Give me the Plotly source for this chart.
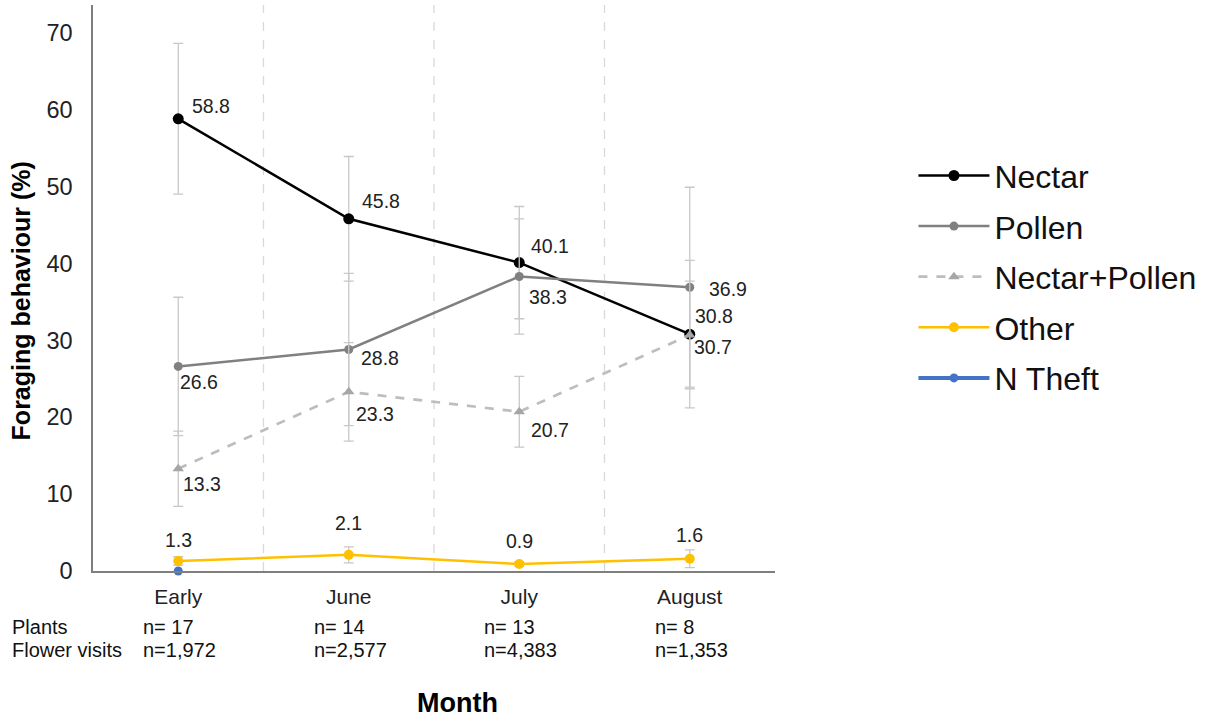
import plotly.graph_objects as go

months = ["Early", "June", "July", "August"]
nectar = [58.8, 45.8, 40.1, 30.8]
nectar_err = [9.8, 8.1, 7.3, 9.6]
pollen = [26.6, 28.8, 38.3, 36.9]
pollen_err = [9.0, 9.9, 7.5, 13.0]
nectar_pollen = [13.3, 23.3, 20.7, 30.7]
nectar_pollen_err = [4.9, 6.4, 4.6, 7.0]
other = [1.3, 2.1, 0.9, 1.6]
other_err = [0.55, 1.05, 0.3, 1.15]
n_theft_months = ["Early"]
n_theft = [0.0]
plants_n = ["n= 17", "n= 14", "n= 13", "n= 8"]
visits_n = ["n=1,972", "n=2,577", "n=4,383", "n=1,353"]
y_ticks = [0, 10, 20, 30, 40, 50, 60, 70]

FONT = "Liberation Sans, Arial, sans-serif"
ERR_COLOR = "#c8c8c8"

fig = go.Figure()

def add_series(name, y, err, color, symbol, size, dash="solid", mcolor=None, width=2.5):
    fig.add_trace(go.Scatter(
        x=months, y=y, name=name, mode="lines+markers",
        line=dict(color=color, width=width, dash=dash),
        marker=dict(color=mcolor or color, size=size, symbol=symbol),
        error_y=dict(type="data", array=err, visible=True, color=ERR_COLOR,
                     thickness=1.3, width=5),
        legendgroup=name,
    ))

add_series("Nectar", nectar, nectar_err, "#000000", "circle", 11)
add_series("Pollen", pollen, pollen_err, "#808080", "circle", 9)
add_series("Nectar+Pollen", nectar_pollen, nectar_pollen_err, "#bdbdbd", "triangle-up", 10,
           dash="dash", mcolor="#a6a6a6", width=2.7)
add_series("Other", other, other_err, "#ffc000", "circle", 10)
fig.add_trace(go.Scatter(
    x=n_theft_months, y=n_theft, name="N Theft", mode="lines+markers",
    line=dict(color="#4472c4", width=4), marker=dict(color="#4472c4", size=9),
    cliponaxis=False, legendgroup="N Theft",
))

# data labels: (series values, per-point (dx, dy) offsets in px)
label_specs = [
    (nectar, [(33, 13), (32, 18), (31, 17), (24, 18)]),
    (pollen, [(21, -16), (31, -8), (29, -21), (38, -2)]),
    (nectar_pollen, [(24, -15), (26, -22), (31, -18), (23, -12)]),
    (other, [(0, 21), (0, 32), (0, 23), (0, 24)]),
]
annotations = []
for vals, offs in label_specs:
    for m, v, (dx, dy) in zip(months, vals, offs):
        annotations.append(dict(x=m, y=v, xref="x", yref="y", text=f"{v:.1f}",
                                showarrow=False, xshift=dx, yshift=dy,
                                font=dict(size=19.5, color="#222", family=FONT)))

ROW_FONT = dict(size=20, color="#111", family=FONT)
for m, p, n in zip(months, plants_n, visits_n):
    annotations.append(dict(x=m, y=-0.099, xref="x", yref="paper", text=p, showarrow=False,
                            xanchor="left", yanchor="middle", xshift=-37, font=ROW_FONT))
    annotations.append(dict(x=m, y=-0.14, xref="x", yref="paper", text=n, showarrow=False,
                            xanchor="left", yanchor="middle", xshift=-37, font=ROW_FONT))
annotations.append(dict(x=-0.122, y=-0.099, xref="paper", yref="paper", text="Plants", showarrow=False,
                        xanchor="left", yanchor="middle", font=ROW_FONT))
annotations.append(dict(x=-0.122, y=-0.14, xref="paper", yref="paper", text="Flower visits", showarrow=False,
                        xanchor="left", yanchor="middle", font=ROW_FONT))
annotations.append(dict(x=0.535, y=-0.233, xref="paper", yref="paper", text="<b>Month</b>", showarrow=False,
                        xanchor="center", yanchor="middle",
                        font=dict(size=27, color="#000", family=FONT)))
annotations.append(dict(x=-0.105, y=0.477, xref="paper", yref="paper", text="<b>Foraging behaviour (%)</b>",
                        showarrow=False, textangle=-90, xanchor="center", yanchor="middle",
                        font=dict(size=25, color="#000", family=FONT)))

shapes = []
for b in [0.5, 1.5, 2.5]:
    shapes.append(dict(type="line", xref="x", yref="paper", x0=b, x1=b, y0=0, y1=1,
                       line=dict(color="#d9d9d9", width=1.3, dash="dash"), layer="below"))

fig.update_layout(
    width=1215, height=717,
    margin=dict(l=93, r=440, t=5, b=146),
    paper_bgcolor="white", plot_bgcolor="white",
    font=dict(family=FONT, color="#222"),
    showlegend=True,
    legend=dict(x=1.203, y=0.747, xanchor="left", yanchor="top",
                font=dict(size=32, color="#111", family=FONT),
                traceorder="grouped", tracegroupgap=6, itemwidth=71),
    xaxis=dict(type="category", range=[-0.5, 3.5], showgrid=False, showline=True,
               linecolor="#7f7f7f", linewidth=1.5, ticks="", tickfont=dict(size=21, color="#222"),
               zeroline=False, ticklabelstandoff=6),
    yaxis=dict(range=[0, 73.6], tickvals=y_ticks, showgrid=False, showline=True,
               linecolor="#7f7f7f", linewidth=1.5, ticks="", tickfont=dict(size=23.5, color="#222"),
               zeroline=False, ticklabelstandoff=14),
    annotations=annotations, shapes=shapes,
)

fig.write_html("out.html", config={"displayModeBar": False},
               post_script="document.body.style.margin='0';")
